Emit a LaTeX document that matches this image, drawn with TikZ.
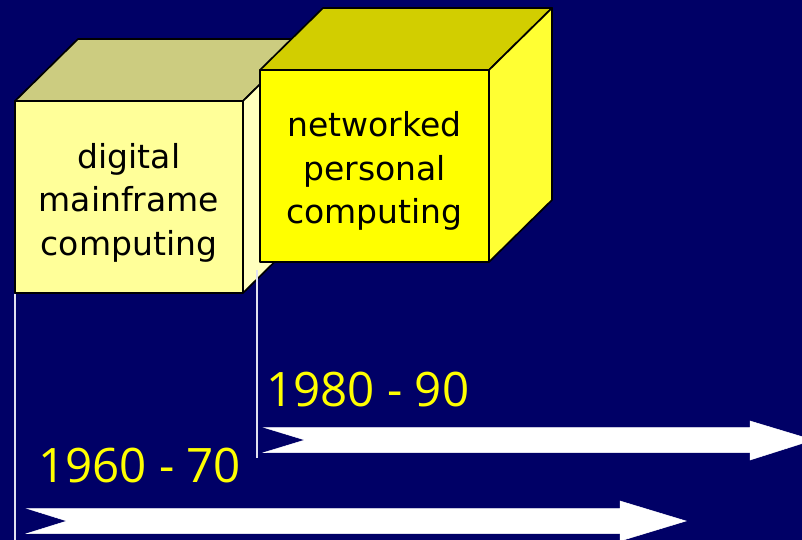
\documentclass[tikz,border=0pt]{standalone}
\usepackage{fontspec}
\newfontfamily\cubefont{DejaVu Sans}
\newfontfamily\yearfont{Open Sans}

\definecolor{navy}{RGB}{0,0,102}
\definecolor{paleFront}{RGB}{255,255,153}
\definecolor{paleTop}{RGB}{204,204,128}
\definecolor{paleSide}{RGB}{255,255,190}
\definecolor{brightFront}{RGB}{255,255,0}
\definecolor{brightTop}{RGB}{210,206,0}
\definecolor{brightSide}{RGB}{255,255,51}
\definecolor{yearYellow}{RGB}{255,255,0}
\definecolor{guide}{RGB}{225,225,240}

% a box drawn as front face, top face and right face
% #1 = front top-left corner, #2 = width, #3 = height, #4 = depth,
% #5/#6/#7 = front/top/side colours
\newcommand\drawbox[7]{%
  \begin{scope}[shift={#1}]
    \filldraw[boxedge,fill=#5] (0,0) rectangle (#2,#3);
    \filldraw[boxedge,fill=#6] (0,0) -- (#4,-#4+1) -- (#2+#4,-#4+1) -- (#2,0) -- cycle;
    \filldraw[boxedge,fill=#7] (#2,0) -- (#2+#4,-#4+1) -- (#2+#4,#3-#4+1) -- (#2,#3) -- cycle;
  \end{scope}}

\begin{document}
\begin{tikzpicture}[x=1pt,y=-1pt,
  boxedge/.style={draw=black,line width=1.7pt,line join=round},
  boxtext/.style={font=\cubefont\fontsize{33}{43.5}\selectfont,align=center,text=black,inner sep=0pt},
  yeartext/.style={font=\yearfont\fontsize{47.5}{50}\selectfont,text=yearYellow,inner sep=0pt,anchor=base west},
  guideline/.style={draw=guide,line width=1.8pt},
  bigarrow/.style={fill=white,draw=white,line width=0.5pt}]

  \useasboundingbox (0,0) rectangle (802,540);
  \fill[navy] (0,0) rectangle (802,540);
  \clip (0,0) rectangle (802,540);

  % the two era boxes
  \drawbox{(15,101)}{228}{192}{63}{paleFront}{paleTop}{paleSide}
  \drawbox{(260,70)}{229}{192}{63}{brightFront}{brightTop}{brightSide}

  \node[boxtext] (mainframe) at (129,202.5) {digital\\mainframe\\computing};
  \node[boxtext] (personal) at (374.5,171) {networked\\personal\\computing};

  % guide lines dropping from the boxes to the time arrows
  \coordinate (g1top) at (15,294);
  \coordinate (g1bot) at (15,541);
  \coordinate (g2top) at (257,270);
  \coordinate (g2bot) at (257,458);
  \draw[guideline] (g1top) -- (g1bot);
  \draw[guideline] (g2top) -- (g2bot);

  % time arrows with notched tails
  \fill[bigarrow] (264,427.5) -- (750,427.5) -- (750,421) -- (813,440)
    -- (750,460) -- (750,452.5) -- (264,452.5) -- (305,440) -- cycle;
  \fill[bigarrow] (27,508.5) -- (620,508.5) -- (620,501) -- (686,521)
    -- (620,541) -- (620,533.5) -- (27,533.5) -- (67,521) -- cycle;

  % era labels
  \node[yeartext] (y1980) at (266,406) {1980 - 90};
  \node[yeartext] (y1960) at (38,482) {1960 - 70};
\end{tikzpicture}
\end{document}
